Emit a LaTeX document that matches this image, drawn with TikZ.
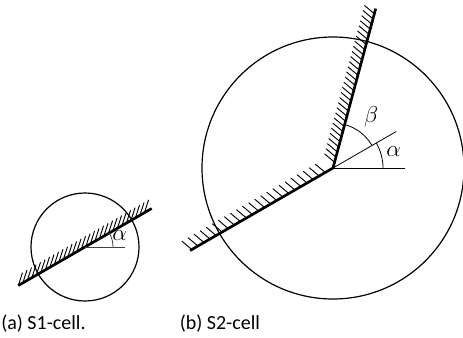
\documentclass[tikz,border=0pt]{standalone}
\usepackage{fontspec}
\setmainfont{Carlito}
\usetikzlibrary{calc}
\begin{document}
\begin{tikzpicture}[x=0.75pt,y=0.75pt,
  wall/.style={line width=2pt},
  cellcircle/.style={line width=0.9pt},
  hatchline/.style={line width=0.7pt},
  thinline/.style={line width=0.6pt},
  anglelabel/.style={inner sep=0pt,font=\fontsize{17}{19}\selectfont},
  caption/.style={inner sep=0pt,anchor=base west,font=\fontsize{15}{18}\selectfont}]
\useasboundingbox (0,0) rectangle (463,337);
% ---------- (a) S1-cell ----------
\coordinate (A) at (85,90);
\coordinate (A1) at ($(A)+(210:77)$);
\coordinate (A2) at ($(A)+(30:77)$);
\coordinate (Ah) at ($(A)+(40,0)$);
\draw[cellcircle] (A) circle[radius=54];
\foreach \t in {-77,-71.8,...,72}
  \draw[hatchline] ($(A)+(30:\t)$) -- ++(72:13.5);
\draw[wall] (A1) -- (A2);
\draw[thinline,black!75] (A) -- (Ah);
\draw[thinline,black!75] (A) ++(28,0) arc[start angle=0,end angle=30,radius=28];
\node[anglelabel] (alphaA) at (119.5,101.5) {$\alpha$};
\node[caption] (capA) at (1,8) {(a) S1-cell.};
% ---------- (b) S2-cell ----------
\coordinate (V) at (333,169);
\coordinate (Vup) at ($(V)+(75:165)$);
\coordinate (Vlow) at ($(V)+(210:165)$);
\coordinate (Vh) at ($(V)+(72,0)$);
\coordinate (Va) at ($(V)+(30:73)$);
\draw[cellcircle] (V) circle[radius=131];
\foreach \t in {6,11.3,...,163}
  \draw[hatchline] ($(V)+(75:\t)$) -- ++(140:13);
\foreach \t in {9,16,...,165}
  \draw[hatchline] ($(V)+(210:\t)$) -- ++(140:13);
\draw[wall] (Vlow) -- (V) -- (Vup);
\draw[thinline] (V) -- (Vh);
\draw[thinline] (V) -- (Va);
\draw[thinline] (V) ++(50,0) arc[start angle=0,end angle=30,radius=50];
\draw[thinline] (V) ++(30:45) arc[start angle=30,end angle=75,radius=45];
\node[anglelabel] (betaB) at (371,220.5) {$\beta$};
\node[anglelabel] (alphaB) at (393.5,185.5) {$\alpha$};
\node[caption] (capB) at (179.5,8) {(b) S2-cell};
\end{tikzpicture}
\end{document}
